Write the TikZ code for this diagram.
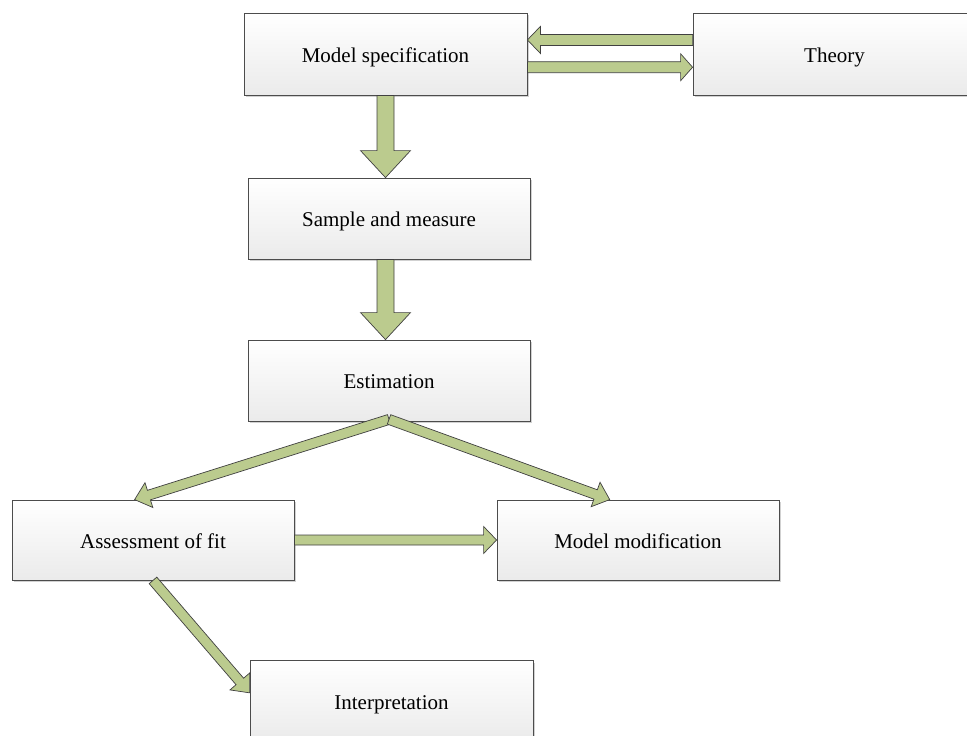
\documentclass[tikz,border=0pt]{standalone}
\usepackage{fontspec}
\setmainfont{Liberation Serif}
\usetikzlibrary{calc,shadows}

\tikzset{
  stagebox/.style={draw=black!70, line width=0.8pt, top color=white, bottom color=black!8,
    minimum width=282pt, minimum height=81pt, inner sep=0pt,
    text height=20pt, text depth=4pt,
    font=\fontsize{21}{24}\selectfont,
    drop shadow={shadow xshift=2pt, shadow yshift=-2pt, opacity=0.18, fill=black}},
  flowarrow/.style={draw=black!75, line width=0.7pt, fill=arrowgreen, line join=miter},
}
\definecolor{arrowgreen}{HTML}{BBCB8E}

% block arrow from #1 to #2: shaft half-width #3, head half-width #4, head length #5
\newcommand\blkarrow[5]{%
  \coordinate (ba-h) at ($(#2)!#5!(#1)$);
  \draw[flowarrow]
    ($(#1)!#3!90:(#2)$) -- ($(ba-h)!#3!-90:(#1)$) -- ($(ba-h)!#4!-90:(#1)$) -- (#2)
    -- ($(ba-h)!#4!90:(#1)$) -- ($(ba-h)!#3!90:(#1)$) -- ($(#1)!#3!-90:(#2)$) -- cycle;
}

\begin{document}
\begin{tikzpicture}[x=1pt,y=-1pt]
\useasboundingbox (0,0) rectangle (967,736);
\clip (0,0) rectangle (967,736);

% stages
\node[stagebox, minimum width=283pt, minimum height=82pt] (ms) at (385.5,54) {Model specification};
\node[stagebox, minimum width=283pt, minimum height=82pt] (th) at (834.5,54) {Theory};
\node[stagebox] (sm) at (389,218.5) {Sample and measure};
\node[stagebox] (es) at (389,380.5) {Estimation};
\node[stagebox, minimum height=80pt] (af) at (153,540) {Assessment of fit};
\node[stagebox, minimum height=80pt] (mm) at (638,540) {Model modification};
\node[stagebox, minimum width=283pt] (ip) at (391.5,701) {Interpretation};

% arrow end points on the stage borders
\coordinate (th-a) at ($(th.north west)!0.33!(th.south west)$);
\coordinate (ms-a) at (th-a -| ms.east);
\coordinate (ms-b) at ($(ms.north east)!0.66!(ms.south east)$);
\coordinate (th-b) at (ms-b -| th.west);
\coordinate (sm-top) at (ms.south |- sm.north);
\coordinate (sm-out) at (ms.south |- sm.south);
\coordinate (es-top) at (ms.south |- es.north);
\coordinate (es-out) at ($(es.south)+(0,-2)$);
\coordinate (af-top) at ($(af.north west)!0.435!(af.north east)$);
\coordinate (mm-top) at ($(mm.north west)!0.40!(mm.north east)$);
\coordinate (ip-in) at ($(ip.north west)!0.8!(ip.west)$);

% connectors
\blkarrow{th-a}{ms-a}{5.5pt}{13.5pt}{13pt}
\blkarrow{ms-b}{th-b}{5.5pt}{13.5pt}{12pt}
\blkarrow{ms.south}{sm-top}{8.5pt}{25pt}{27pt}
\blkarrow{sm-out}{es-top}{8.5pt}{25pt}{27pt}
\blkarrow{es-out}{af-top}{5pt}{13pt}{15pt}
\blkarrow{es-out}{mm-top}{5pt}{13pt}{15pt}
\blkarrow{af.east}{mm.west}{5pt}{13.5pt}{13pt}
\blkarrow{af.south}{ip-in}{5pt}{13pt}{15pt}
\end{tikzpicture}
\end{document}
